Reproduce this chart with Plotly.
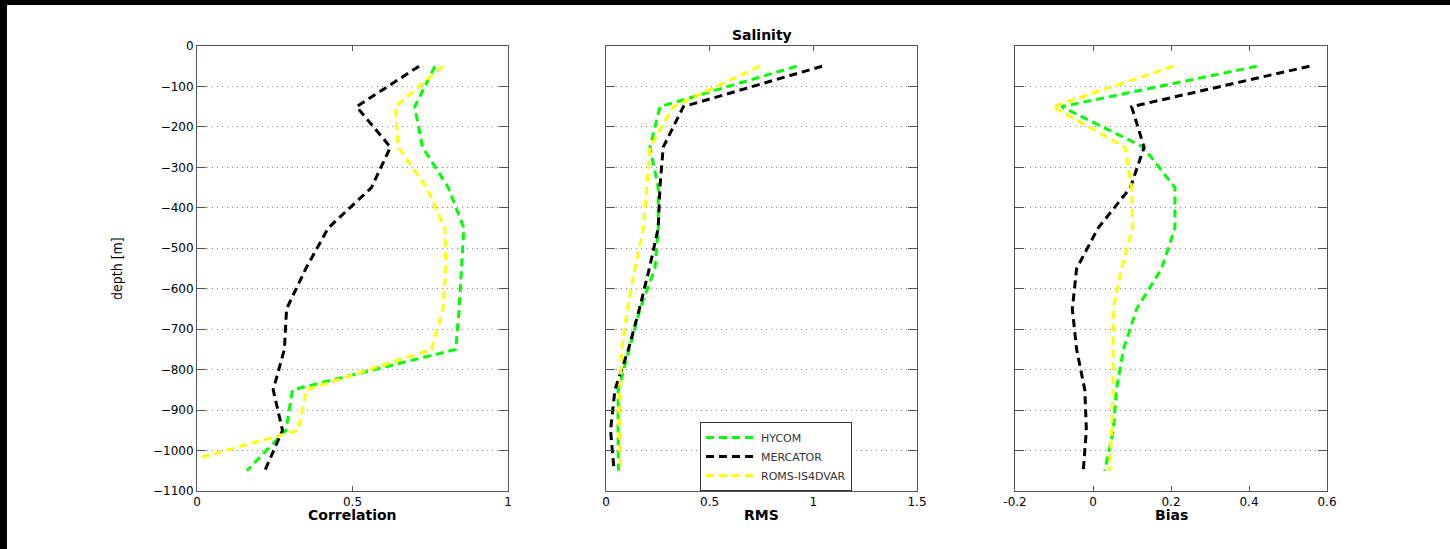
import plotly.graph_objects as go

# ---- data ----
depth = [-50, -150, -250, -350, -450, -550, -650, -750, -850, -950, -1050]

corr_hycom = [0.765, 0.700, 0.725, 0.808, 0.858, 0.850, 0.843, 0.832, 0.307, 0.286, 0.160]
corr_mercator = [0.714, 0.513, 0.622, 0.561, 0.422, 0.350, 0.288, 0.281, 0.245, 0.275, 0.218]
corr_roms = [0.791, 0.638, 0.647, 0.738, 0.797, 0.800, 0.791, 0.754, 0.352, 0.325, -0.14]

rms_hycom = [0.919, 0.260, 0.212, 0.252, 0.252, 0.236, 0.164, 0.113, 0.059, 0.058, 0.060]
rms_mercator = [1.042, 0.373, 0.276, 0.260, 0.252, 0.209, 0.161, 0.108, 0.043, 0.022, 0.039]
rms_roms = [0.742, 0.325, 0.212, 0.196, 0.180, 0.140, 0.103, 0.076, 0.067, 0.064, 0.071]

bias_hycom = [0.420, -0.081, 0.129, 0.210, 0.210, 0.176, 0.112, 0.078, 0.060, 0.052, 0.030]
bias_mercator = [0.555, 0.099, 0.131, 0.096, 0.013, -0.042, -0.053, -0.042, -0.021, -0.017, -0.025]
bias_roms = [0.206, -0.104, 0.082, 0.099, 0.102, 0.073, 0.052, 0.051, 0.051, 0.048, 0.042]

names = ["HYCOM", "MERCATOR", "ROMS-IS4DVAR"]
colors = ["#00ff00", "#000000", "#ffff00"]

y_ticks = [0, -100, -200, -300, -400, -500, -600, -700, -800, -900, -1000, -1100]
x1_ticks = [0, 0.5, 1]
x1_labels = ["0", "0.5", "1"]
x2_ticks = [0, 0.5, 1, 1.5]
x2_labels = ["0", "0.5", "1", "1.5"]
x3_ticks = [-0.2, 0, 0.2, 0.4, 0.6]
x3_labels = ["-0.2", "0", "0.2", "0.4", "0.6"]

# ---- figure ----
W, H = 1450, 549
ML, MR, MT, MB = 197, 123, 46, 58
PW = W - ML - MR
PH = H - MT - MB

def px_x(p):
    return (p - ML) / PW

def px_y(p):
    return (H - MB - p) / PH

fig = go.Figure()
dash = "8px,5px"
panels = [
    ("x", "y", [corr_hycom, corr_mercator, corr_roms]),
    ("x2", "y2", [rms_hycom, rms_mercator, rms_roms]),
    ("x3", "y3", [bias_hycom, bias_mercator, bias_roms]),
]
for pi, (xa, ya, series) in enumerate(panels):
    for name, col, vals in zip(names, colors, series):
        fig.add_trace(go.Scatter(
            x=vals, y=depth, mode="lines", name=name,
            line=dict(color=col, width=3, dash=dash),
            xaxis=xa, yaxis=ya, showlegend=(pi == 1), cliponaxis=True,
        ))

FONT = "DejaVu Sans, Liberation Sans, sans-serif"
font_tick = dict(family=FONT, size=12, color="#000")
axis_common = dict(showline=True, linecolor="#555", linewidth=1, mirror="ticks",
                   ticks="inside", tickcolor="#555", zeroline=False,
                   tickfont=font_tick)

d1 = [0, px_x(508)]
d2 = [px_x(606), px_x(917)]
d3 = [px_x(1015), 1]

yax = dict(range=[-1100, 0], tickvals=y_ticks, showgrid=True, gridcolor="#888888",
           griddash="1px,4px", gridwidth=1, ticklen=9, **axis_common)

fig.update_layout(
    width=W, height=H,
    margin=dict(l=ML, r=MR, t=MT, b=MB),
    paper_bgcolor="white", plot_bgcolor="white",
    xaxis=dict(domain=d1, range=[0, 1], tickvals=x1_ticks, ticktext=x1_labels,
               showgrid=False, ticklen=5, anchor="y", **axis_common),
    xaxis2=dict(domain=d2, range=[0, 1.5], tickvals=x2_ticks, ticktext=x2_labels,
                showgrid=False, ticklen=5, anchor="y2", **axis_common),
    xaxis3=dict(domain=d3, range=[-0.2, 0.6], tickvals=x3_ticks, ticktext=x3_labels,
                showgrid=False, ticklen=5, anchor="y3", **axis_common),
    yaxis=dict(anchor="x", **yax),
    yaxis2=dict(anchor="x2", showticklabels=False, **yax),
    yaxis3=dict(anchor="x3", showticklabels=False, **yax),
    legend=dict(x=px_x(700), y=0.0, xanchor="left", yanchor="bottom",
                bgcolor="white", bordercolor="#333", borderwidth=1,
                font=dict(family=FONT, size=11, color="#333"),
                tracegroupgap=0, itemwidth=50),
    showlegend=True,
)

bold = dict(family=FONT, size=14, color="#000")
ann = [
    dict(text="<b>Salinity</b>", x=(d2[0] + d2[1]) / 2, y=px_y(35)),
    dict(text="<b>Correlation</b>", x=(d1[0] + d1[1]) / 2, y=px_y(515)),
    dict(text="<b>RMS</b>", x=(d2[0] + d2[1]) / 2, y=px_y(515)),
    dict(text="<b>Bias</b>", x=(d3[0] + d3[1]) / 2, y=px_y(515)),
]
for a in ann:
    fig.add_annotation(xref="paper", yref="paper", showarrow=False,
                       xanchor="center", yanchor="middle", font=bold, **a)
fig.add_annotation(xref="paper", yref="paper", showarrow=False, text="depth [m]",
                   x=px_x(117), y=px_y(269), textangle=-90, xanchor="center", yanchor="middle",
                   font=dict(family="Liberation Sans Narrow, DejaVu Sans Condensed, sans-serif",
                             size=14, color="#000"))

# black frame strips at the top and left edge of the image
fig.add_shape(type="rect", xref="paper", yref="paper", x0=px_x(0), x1=px_x(W), y0=px_y(5), y1=px_y(0),
              fillcolor="black", line=dict(width=0), layer="above")
fig.add_shape(type="rect", xref="paper", yref="paper", x0=px_x(0), x1=px_x(7), y0=px_y(H), y1=px_y(0),
              fillcolor="black", line=dict(width=0), layer="above")

fig.write_html(
    "out.html",
    config={"displayModeBar": False},
    post_script="document.body.style.margin='0';document.body.style.overflow='hidden';",
)
